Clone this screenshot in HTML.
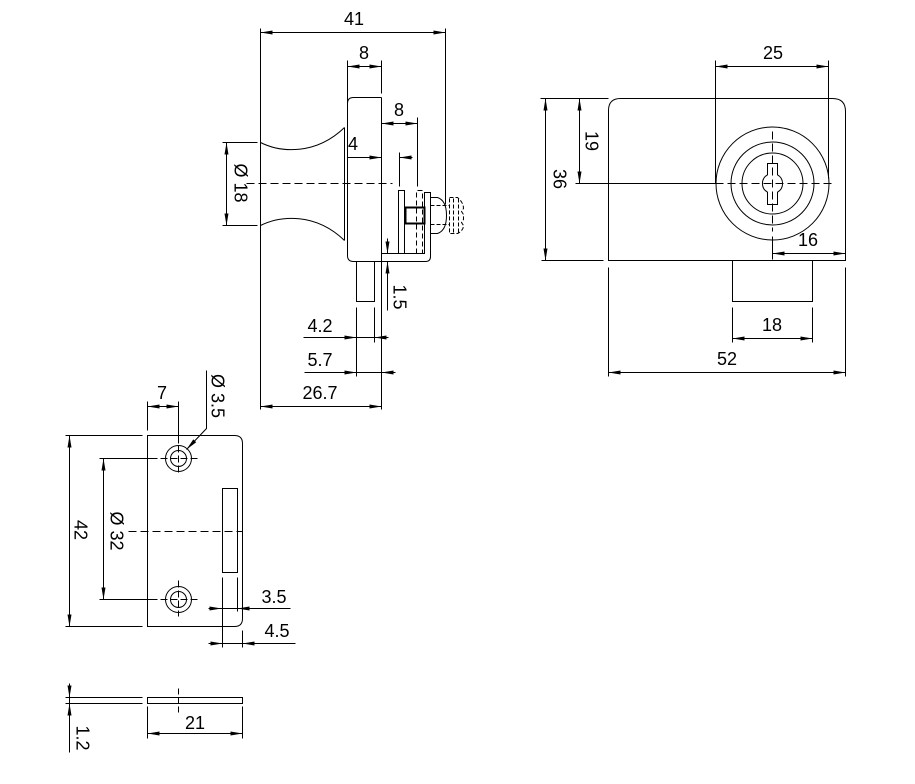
<!DOCTYPE html>
<html><head><meta charset="utf-8"><style>
html,body{margin:0;padding:0;background:#fff;}
svg{display:block;}
text{font-family:"Liberation Sans",Arial,sans-serif;font-size:18px;fill:#000;}
</style></head><body>
<svg width="915" height="784" viewBox="0 0 915 784" xmlns="http://www.w3.org/2000/svg">
<defs>
<marker id="a" viewBox="0 0 12 4" refX="12" refY="2" markerWidth="12" markerHeight="4" markerUnits="userSpaceOnUse" orient="auto-start-reverse"><path d="M0,0 L12,2 L0,4 Z" fill="#000"/></marker>
</defs>
<g transform="translate(0.5,0.5)" fill="none" stroke="#000" stroke-width="1">
<!-- ===== SIDE VIEW ===== -->
<line x1="260" y1="32" x2="445" y2="32" marker-start="url(#a)" marker-end="url(#a)"/>
<line x1="260" y1="28" x2="260" y2="409"/>
<line x1="445" y1="28" x2="445" y2="204"/>
<line x1="347" y1="66" x2="381" y2="66" marker-start="url(#a)" marker-end="url(#a)"/>
<line x1="347" y1="60" x2="347" y2="103"/>
<line x1="381" y1="60" x2="381" y2="93"/>
<path d="M347,103 Q347,97 353,97 L381,97"/>
<line x1="381" y1="97" x2="381" y2="409"/>
<path d="M347,103 L347,255 Q347,261 353,261 L425,261 Q430,261 430,256 L430,192 L424,192 L424,253 L381,253"/>
<!-- knob -->
<path d="M260,142 C280,152 315,155 344,127"/>
<path d="M260,225 C280,215 315,212 344,240"/>
<line x1="344" y1="127" x2="344" y2="240"/>
<line x1="222" y1="142" x2="257" y2="142"/>
<line x1="222" y1="225" x2="257" y2="225"/>
<line x1="226" y1="142" x2="226" y2="225" marker-start="url(#a)" marker-end="url(#a)"/>
<line x1="246" y1="183" x2="392" y2="183" stroke-dasharray="8,4"/>
<!-- 8 second -->
<line x1="381" y1="123" x2="417" y2="123" marker-start="url(#a)" marker-end="url(#a)"/>
<line x1="417" y1="117" x2="417" y2="186"/>
<!-- 4 -->
<line x1="347" y1="157" x2="381" y2="157" marker-end="url(#a)"/>
<line x1="399" y1="157" x2="412" y2="157"/>
<polygon points="411,155 399,157 411,159" fill="#000" stroke="none"/>
<line x1="399" y1="152" x2="399" y2="186"/>
<!-- bracket internals -->
<path d="M398,253 L398,190 L404,190 L404,253"/>
<path d="M416,253 L416,190 L422,190 L422,253" stroke-dasharray="5,3"/>
<rect x="405" y="207" width="19" height="16" stroke-width="2"/>
<!-- screw -->
<path d="M430,197 L437,197 Q446,200 446,215 Q446,230 437,233 L430,233"/>
<line x1="430" y1="205" x2="449" y2="205" stroke-dasharray="4,2"/>
<line x1="430" y1="224" x2="449" y2="224" stroke-dasharray="4,2"/>
<path d="M449,197 L457,197 Q463,202 463,208 L461,211 L463,214 L463,219 L461,222 L463,225 Q463,230 457,233 L449,233 Z" stroke-dasharray="4,2"/>
<line x1="453" y1="198" x2="453" y2="232" stroke-dasharray="4,2"/>
<line x1="458" y1="198" x2="458" y2="232" stroke-dasharray="4,2"/>
<!-- 1.5 -->
<line x1="387" y1="238" x2="387" y2="253"/>
<polygon points="385,241 387,253 389,241" fill="#000" stroke="none"/>
<line x1="387" y1="261" x2="387" y2="310"/>
<polygon points="385,273 387,261 389,273" fill="#000" stroke="none"/>
<line x1="381" y1="261" x2="391" y2="261"/>
<!-- stub -->
<rect x="356" y="261" width="18" height="40"/>
<line x1="356" y1="307" x2="356" y2="376"/>
<line x1="374" y1="307" x2="374" y2="342"/>
<!-- 4.2 -->
<line x1="303" y1="337" x2="388" y2="337"/>
<polygon points="344,335 356,337 344,339" fill="#000" stroke="none"/>
<polygon points="386,335 374,337 386,339" fill="#000" stroke="none"/>
<!-- 5.7 -->
<line x1="304" y1="372" x2="395" y2="372"/>
<polygon points="344,370 356,372 344,374" fill="#000" stroke="none"/>
<polygon points="393,370 381,372 393,374" fill="#000" stroke="none"/>
<!-- 26.7 -->
<line x1="260" y1="406" x2="381" y2="406" marker-start="url(#a)" marker-end="url(#a)"/>

<!-- ===== FRONT VIEW ===== -->
<path d="M608,260 L608,110 Q608,98 620,98 L832,98 Q845,98 845,111 L845,260 Z"/>
<line x1="540" y1="98" x2="608" y2="98"/>
<line x1="541" y1="260" x2="603" y2="260"/>
<line x1="545" y1="98" x2="545" y2="260" marker-start="url(#a)" marker-end="url(#a)"/>
<line x1="579" y1="98" x2="579" y2="183" marker-start="url(#a)" marker-end="url(#a)"/>
<line x1="575" y1="183" x2="715" y2="183"/>
<line x1="715" y1="183" x2="833" y2="183" stroke-dasharray="8,4"/>
<line x1="772" y1="131" x2="772" y2="231" stroke-dasharray="8,4"/>
<line x1="772" y1="236" x2="772" y2="259"/>
<circle cx="772" cy="183" r="56.5"/>
<circle cx="772" cy="183" r="41.5"/>
<circle cx="772" cy="183" r="30.5"/>
<path d="M767,163 L777,163 L777,174.3 A10,10 0 0 1 777,191.7 L777,204 L767,204 L767,191.7 A10,10 0 0 1 767,174.3 Z"/>
<line x1="715" y1="66" x2="828" y2="66" marker-start="url(#a)" marker-end="url(#a)"/>
<line x1="715" y1="60" x2="715" y2="183"/>
<line x1="828" y1="60" x2="828" y2="178"/>
<line x1="772" y1="253" x2="845" y2="253" marker-start="url(#a)" marker-end="url(#a)"/>
<rect x="732" y="260" width="80" height="41"/>
<line x1="732" y1="307" x2="732" y2="342"/>
<line x1="812" y1="307" x2="812" y2="342"/>
<line x1="732" y1="338" x2="812" y2="338" marker-start="url(#a)" marker-end="url(#a)"/>
<line x1="608" y1="267" x2="608" y2="376"/>
<line x1="845" y1="267" x2="845" y2="376"/>
<line x1="608" y1="372" x2="845" y2="372" marker-start="url(#a)" marker-end="url(#a)"/>

<!-- ===== PLATE ===== -->
<path d="M147,435 L234,435 Q242,435 242,443 L242,618 Q242,626 234,626 L147,626 Z"/>
<line x1="147" y1="406" x2="178" y2="406" marker-start="url(#a)" marker-end="url(#a)"/>
<line x1="147" y1="401" x2="147" y2="430"/>
<line x1="178" y1="401" x2="178" y2="443"/>
<circle cx="178" cy="458" r="13"/>
<circle cx="178" cy="458" r="8"/>
<circle cx="178" cy="599" r="13"/>
<circle cx="178" cy="599" r="8"/>
<line x1="99" y1="458" x2="157" y2="458"/>
<line x1="160" y1="458" x2="198" y2="458" stroke-dasharray="7,3"/>
<line x1="178" y1="445" x2="178" y2="475" stroke-dasharray="7,3"/>
<line x1="99" y1="599" x2="157" y2="599"/>
<line x1="160" y1="599" x2="198" y2="599" stroke-dasharray="7,3"/>
<line x1="178" y1="580" x2="178" y2="616" stroke-dasharray="7,3"/>
<line x1="103" y1="458" x2="103" y2="599" marker-start="url(#a)" marker-end="url(#a)"/>
<line x1="65" y1="435" x2="142" y2="435"/>
<line x1="65" y1="626" x2="142" y2="626"/>
<line x1="69" y1="435" x2="69" y2="626" marker-start="url(#a)" marker-end="url(#a)"/>
<line x1="128" y1="531" x2="242" y2="531" stroke-dasharray="8,4"/>
<rect x="222" y="488" width="15" height="84"/>
<line x1="222" y1="577" x2="222" y2="647"/>
<line x1="237" y1="577" x2="237" y2="611"/>
<line x1="242" y1="630" x2="242" y2="647"/>
<line x1="208" y1="608" x2="290" y2="608"/>
<polygon points="209,606 221,608 209,610" fill="#000" stroke="none"/>
<polygon points="249,606 237,608 249,610" fill="#000" stroke="none"/>
<line x1="208" y1="643" x2="295" y2="643"/>
<polygon points="210,641 222,643 210,645" fill="#000" stroke="none"/>
<polygon points="254,641 242,643 254,645" fill="#000" stroke="none"/>
<polyline points="206,370 206,428 186,449"/>
<polygon points="195.7,441.7 186,449 192.8,438.9" fill="#000" stroke="none"/>

<!-- ===== STRIP ===== -->
<line x1="65" y1="697" x2="142" y2="697"/>
<line x1="65" y1="703" x2="142" y2="703"/>
<rect x="147" y="697" width="95" height="6"/>
<line x1="178" y1="688" x2="178" y2="713" stroke-dasharray="6,3"/>
<line x1="69" y1="683" x2="69" y2="752"/>
<polygon points="67,685 69,697 71,685" fill="#000" stroke="none"/>
<polygon points="67,715 69,703 71,715" fill="#000" stroke="none"/>
<line x1="147" y1="706" x2="147" y2="738"/>
<line x1="242" y1="706" x2="242" y2="738"/>
<line x1="147" y1="733" x2="242" y2="733" marker-start="url(#a)" marker-end="url(#a)"/>
</g>

<!-- ===== TEXT ===== -->
<g text-anchor="middle">
<text x="354" y="25">41</text>
<text x="364" y="59">8</text>
<text x="399" y="116">8</text>
<text x="353" y="150">4</text>
<text x="320" y="332">4.2</text>
<text x="320" y="366">5.7</text>
<text x="320" y="399">26.7</text>
<text x="773" y="59">25</text>
<text x="808" y="246">16</text>
<text x="772" y="331">18</text>
<text x="727" y="365">52</text>
<text x="162" y="399">7</text>
<text x="274" y="603">3.5</text>
<text x="277" y="637">4.5</text>
<text x="195" y="729">21</text>
<g transform="translate(241,183) rotate(90)"><text x="0" y="6.5">Ø 18</text></g>
<g transform="translate(400,297) rotate(90)"><text x="0" y="6.5">1.5</text></g>
<g transform="translate(560,179) rotate(90)"><text x="0" y="6.5">36</text></g>
<g transform="translate(592,141) rotate(90)"><text x="0" y="6.5">19</text></g>
<g transform="translate(218,396) rotate(90)"><text x="0" y="6.5">Ø 3.5</text></g>
<g transform="translate(81,530) rotate(90)"><text x="0" y="6.5">42</text></g>
<g transform="translate(117,531) rotate(90)"><text x="0" y="6.5">Ø 32</text></g>
<g transform="translate(83,738) rotate(90)"><text x="0" y="6.5">1.2</text></g>
</g>
</svg>
</body></html>
